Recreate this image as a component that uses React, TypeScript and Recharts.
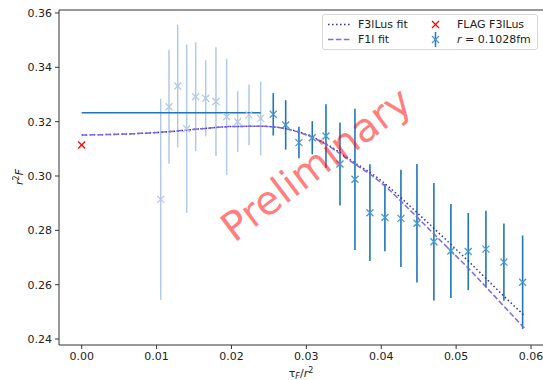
import React from "react";
import {
  ComposedChart,
  Scatter,
  Line,
  XAxis,
  YAxis,
  ErrorBar,
  Legend,
  ReferenceLine,
} from "recharts";

// faded points (tau_F / r^2 below the fit window)
const lightTau = [0.01055, 0.01166, 0.01282, 0.01402, 0.01522, 0.01656, 0.01793, 0.01936, 0.02083, 0.02234, 0.0239];
const lightVal = [0.2914, 0.3255, 0.3331, 0.3174, 0.3292, 0.3286, 0.3274, 0.3218, 0.32, 0.3225, 0.3212];
const lightErr = [0.037, 0.021, 0.0226, 0.031, 0.02, 0.014, 0.02, 0.0214, 0.0112, 0.0112, 0.0136];

// r = 0.1028fm points
const darkTau = [0.02558, 0.02724, 0.02901, 0.03079, 0.03262, 0.03449, 0.03649, 0.03849, 0.04049, 0.04263, 0.04477, 0.04703, 0.0493, 0.05162, 0.05398, 0.05638, 0.05888];
const darkVal = [0.3227, 0.3188, 0.3123, 0.3141, 0.3147, 0.3044, 0.2988, 0.2865, 0.2847, 0.2844, 0.2826, 0.2758, 0.2724, 0.2722, 0.2731, 0.2683, 0.2609];
const darkErr = [0.0078, 0.0091, 0.0058, 0.0061, 0.0117, 0.0153, 0.026, 0.0178, 0.0124, 0.0179, 0.0218, 0.0216, 0.0173, 0.0142, 0.0141, 0.0142, 0.0172];

// fit curves
const fitTau = [0, 0.004, 0.008, 0.012, 0.016, 0.02, 0.024, 0.028, 0.032, 0.036, 0.04, 0.044, 0.048, 0.052, 0.056, 0.0592];
const fitF3lLus = [0.3151, 0.3153, 0.3157, 0.3164, 0.3174, 0.3182, 0.3183, 0.317, 0.3128, 0.3057, 0.2983, 0.2885, 0.2782, 0.2677, 0.2568, 0.2484];
const fitF1l = [0.3151, 0.3153, 0.3157, 0.3164, 0.3174, 0.3182, 0.3183, 0.3169, 0.3126, 0.3053, 0.2975, 0.287, 0.276, 0.265, 0.2532, 0.2438];

// FLAG value and plateau line
const flagTau = [0];
const flagVal = [0.3114];
const plateauTau = [0, 0.0239];
const plateauVal = 0.3233;

const xTicks = [0, 0.01, 0.02, 0.03, 0.04, 0.05, 0.06];
const yTicks = [0.24, 0.26, 0.28, 0.3, 0.32, 0.34, 0.36];

const X_DOMAIN: [number, number] = [-0.00303, 0.0616];
const Y_DOMAIN: [number, number] = [0.2378, 0.3611];

const FONT = "'DejaVu Sans', sans-serif";
const BLUE = "#1f77b4";
const LIGHT = "#b3cae6";
const DOTTED_COL = "#3a32a8";
const DASHED_COL = "#7b68ee";

const lightData = lightTau.map((x, i) => ({ x, y: lightVal[i], err: lightErr[i] }));
const darkData = darkTau.map((x, i) => ({ x, y: darkVal[i], err: darkErr[i] }));
const f3Data = fitTau.map((x, i) => ({ x, y: fitF3lLus[i] }));
const f1Data = fitTau.map((x, i) => ({ x, y: fitF1l[i] }));
const flagData = flagTau.map((x, i) => ({ x, y: flagVal[i] }));
const plateauData = plateauTau.map((x) => ({ x, y: plateauVal }));

const xMark = (color: string, r = 3.5) => (props: any) => {
  const { cx, cy } = props;
  if (cx == null || cy == null) return <g />;
  return (
    <g stroke={color} strokeWidth={1.3}>
      <line x1={cx - r} y1={cy - r} x2={cx + r} y2={cy + r} />
      <line x1={cx - r} y1={cy + r} x2={cx + r} y2={cy - r} />
    </g>
  );
};

function LegendBox() {
  const row: React.CSSProperties = { display: "flex", alignItems: "center", height: 15 };
  const handle = (el: React.ReactNode) => (
    <svg width={23} height={15} style={{ display: "block" }}>
      {el}
    </svg>
  );
  return (
    <div
      style={{
        fontFamily: FONT,
        fontSize: 11,
        color: "#222",
        background: "rgba(255,255,255,0.8)",
        border: "1px solid #d6d6d6",
        borderRadius: 3,
        padding: "2px 6px 2px 4px",
        display: "flex",
        lineHeight: "15px",
      }}
    >
      <div>
        <div style={row}>
          {handle(<line x1={1} y1={7.5} x2={23} y2={7.5} stroke={DOTTED_COL} strokeWidth={1.5} strokeDasharray="1.5 2.5" />)}
          <span style={{ marginLeft: 8, width: 66 }}>F3lLus fit</span>
        </div>
        <div style={row}>
          {handle(<line x1={1} y1={7.5} x2={23} y2={7.5} stroke={DASHED_COL} strokeWidth={1.5} strokeDasharray="5.5 2.4" />)}
          <span style={{ marginLeft: 8, width: 66 }}>F1l fit</span>
        </div>
      </div>
      <div>
        <div style={row}>
          {handle(
            <g stroke="red" strokeWidth={1.3}>
              <line x1={8} y1={4} x2={15} y2={11} />
              <line x1={8} y1={11} x2={15} y2={4} />
            </g>
          )}
          <span style={{ marginLeft: 10 }}>FLAG F3lLus</span>
        </div>
        <div style={row}>
          {handle(
            <g>
              <line x1={11.5} y1={0} x2={11.5} y2={15} stroke={BLUE} strokeWidth={1.5} />
              <g stroke="#4a95d0" strokeWidth={1.3}>
                <line x1={8} y1={4} x2={15} y2={11} />
                <line x1={8} y1={11} x2={15} y2={4} />
              </g>
            </g>
          )}
          <span style={{ marginLeft: 10 }}>
            <i>r</i> = 0.1028fm
          </span>
        </div>
      </div>
    </div>
  );
}

const tickStyle = { fontFamily: FONT, fontSize: 11, fill: "#222" };

export default function App() {
  return (
    <div style={{ position: "absolute", left: 0, top: 0, width: 543, height: 380, background: "#fff" }}>
      <ComposedChart width={543} height={380} margin={{ top: 10, right: 0, left: 0, bottom: 0 }}>
        <XAxis
          dataKey="x"
          type="number"
          domain={X_DOMAIN}
          allowDataOverflow
          ticks={xTicks}
          tickFormatter={(v: number) => v.toFixed(2)}
          height={35}
          tick={tickStyle}
          tickSize={4}
          tickMargin={3}
          stroke="#333"
          label={{
            content: (p: any) => {
              const vb = p.viewBox || { x: 59, y: 345, width: 484 };
              return (
                <text x={vb.x + 242} y={377} textAnchor="middle" fontFamily={FONT} fontSize={11} fill="#222">
                  τ<tspan fontStyle="italic" fontSize={8} dy={2}>F</tspan>
                  <tspan dy={-2}>/</tspan>
                  <tspan fontStyle="italic">r</tspan>
                  <tspan fontSize={8} dy={-4}>2</tspan>
                </text>
              );
            },
          }}
        />
        <YAxis
          dataKey="y"
          type="number"
          domain={Y_DOMAIN}
          allowDataOverflow
          ticks={yTicks}
          tickFormatter={(v: number) => v.toFixed(2)}
          width={59}
          tick={tickStyle}
          tickSize={4}
          tickMargin={3}
          stroke="#333"
          label={{
            content: () => (
              <text
                x={0}
                y={0}
                transform="translate(23,177) rotate(-90)"
                textAnchor="middle"
                fontFamily={FONT}
                fontSize={11}
                fill="#222"
              >
                <tspan fontStyle="italic">r</tspan>
                <tspan fontSize={8} dy={-4}>2</tspan>
                <tspan fontStyle="italic" dy={4}>F</tspan>
              </text>
            ),
          }}
        />
        <ReferenceLine y={Y_DOMAIN[1]} stroke="#333" strokeWidth={1} ifOverflow="extendDomain" />
        <Legend
          layout="horizontal"
          verticalAlign="middle"
          align="center"
          wrapperStyle={{ left: 322, top: 14, width: "auto" }}
          content={() => <LegendBox />}
        />
        <Scatter data={lightData} dataKey="y" shape={xMark(LIGHT)} isAnimationActive={false}>
          <ErrorBar dataKey="err" direction="y" width={0} stroke={LIGHT} strokeWidth={1.5} />
        </Scatter>
        <Scatter data={darkData} dataKey="y" shape={xMark("#4a95d0")} isAnimationActive={false}>
          <ErrorBar dataKey="err" direction="y" width={0} stroke={BLUE} strokeWidth={1.6} />
        </Scatter>
        <Line
          data={f3Data}
          dataKey="y"
          type="monotone"
          stroke={DOTTED_COL}
          strokeWidth={1.5}
          strokeDasharray="1.5 2.5"
          dot={false}
          isAnimationActive={false}
        />
        <Line
          data={f1Data}
          dataKey="y"
          type="monotone"
          stroke={DASHED_COL}
          strokeWidth={1.5}
          strokeDasharray="5.5 2.4"
          dot={false}
          isAnimationActive={false}
        />
        <Line
          data={plateauData}
          dataKey="y"
          stroke={BLUE}
          strokeWidth={1.5}
          dot={false}
          isAnimationActive={false}
        />
        <Scatter data={flagData} dataKey="y" shape={xMark("red")} isAnimationActive={false} />
      </ComposedChart>
      <div
        style={{
          position: "absolute",
          left: 316,
          top: 164,
          transform: "translate(-50%, -50%) rotate(-37deg)",
          fontFamily: FONT,
          fontSize: 40,
          color: "rgba(255, 0, 0, 0.5)",
          whiteSpace: "nowrap",
          pointerEvents: "none",
        }}
      >
        Preliminary
      </div>
    </div>
  );
}
